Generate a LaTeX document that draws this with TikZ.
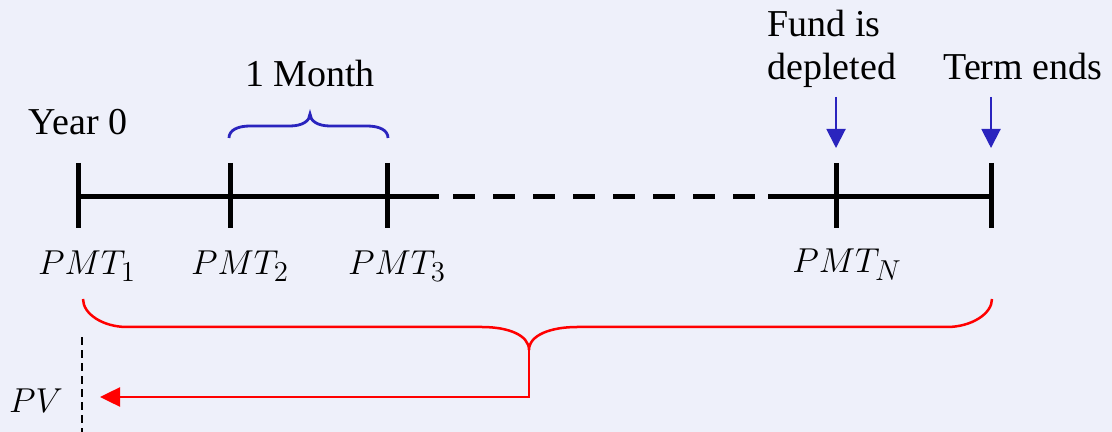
\documentclass[tikz,border=0pt]{standalone}
\usepackage{fontspec}
\setmainfont{Liberation Serif}
\usetikzlibrary{arrows.meta}
\definecolor{tlo}{RGB}{238,240,250}
\definecolor{niebieski}{RGB}{42,36,190}
\begin{document}
\begin{tikzpicture}[x=0.5pt, y=-0.5pt, inner sep=0pt, font=\fontsize{19}{21.5}\selectfont]
        \fill[tlo] (0,0) rectangle (1112,432);
        \useasboundingbox (0,0) rectangle (1112,432);

        % Os czasu
        \coordinate (t1) at (78,197);
        \coordinate (przerwaA) at (439,197);
        \coordinate (przerwaB) at (768,197);
        \coordinate (t5) at (991,197);
        \draw[line width=2.5pt] (t1) -- (przerwaA);
        \draw[line width=2.5pt, dash pattern=on 11pt off 9pt, dash phase=13pt] (przerwaA) -- (przerwaB);
        \draw[line width=2.5pt] (przerwaB) -- (t5);
        \foreach \x in {78,230,387,836,991}
            \draw[line width=2.5pt] (\x,163) -- (\x,228);

        % Opisy nad osia
        \node[anchor=base] (rok) at (78,135) {Year 0};
        \node[anchor=base] (miesiac) at (310,87) {1 Month};
        \node[anchor=base west, align=left] (fundusz) at (767,80) {Fund is\\depleted};
        \node[anchor=base west] (koniec) at (943,80) {Term ends};

        % Klamra 1 miesiac
        \draw[niebieski, line width=1.4pt] (229,138) .. controls (229,130) and (238,126) .. (250,126)
            -- (290,126) .. controls (302,126) and (310,121) .. (310,114)
            .. controls (310,121) and (318,126) .. (330,126)
            -- (367,126) .. controls (379,126) and (388,130) .. (388,138);

        % Strzalki
        \coordinate (s1) at (836,97);
        \coordinate (s1k) at (836,148);
        \coordinate (s2) at (991,97);
        \coordinate (s2k) at (991,148);
        \draw[niebieski, line width=1pt, -{Triangle[length=9.5pt, width=9.5pt]}] (s1) -- (s1k);
        \draw[niebieski, line width=1pt, -{Triangle[length=9.5pt, width=9.5pt]}] (s2) -- (s2k);

        % Platnosci
        \node[anchor=base] (pmt1) at (87,275) {$PMT_1$};
        \node[anchor=base] (pmt2) at (240,275) {$PMT_2$};
        \node[anchor=base] (pmt3) at (397,275) {$PMT_3$};
        \node[anchor=base] (pmtN) at (847,273) {$PMT_N$};

        % Klamra i dyskontowanie do PV
        \coordinate (lewy) at (83,299);
        \coordinate (szpic) at (529,350);
        \coordinate (prawy) at (992,299);
        \coordinate (grot) at (100,397);
        \draw[red, line width=1.25pt] (lewy) .. controls (83,314) and (103,327) .. (127,327)
            -- (482,327) .. controls (508,327) and (529,335) .. (szpic)
            .. controls (529,335) and (551,327) .. (577,327)
            -- (947,327) .. controls (971,327) and (992,314) .. (prawy);
        \draw[red, line width=1.25pt, -{Triangle[length=10pt, width=9.5pt]}] (szpic) |- (grot);

        \node[anchor=base] (pv) at (36,412) {$PV$};
        \coordinate (pvgora) at (82,337);
        \coordinate (pvdol) at (82,432);
        \draw[line width=1pt, dash pattern=on 4pt off 2.5pt] (pvgora) -- (pvdol);
\end{tikzpicture}
\end{document}
